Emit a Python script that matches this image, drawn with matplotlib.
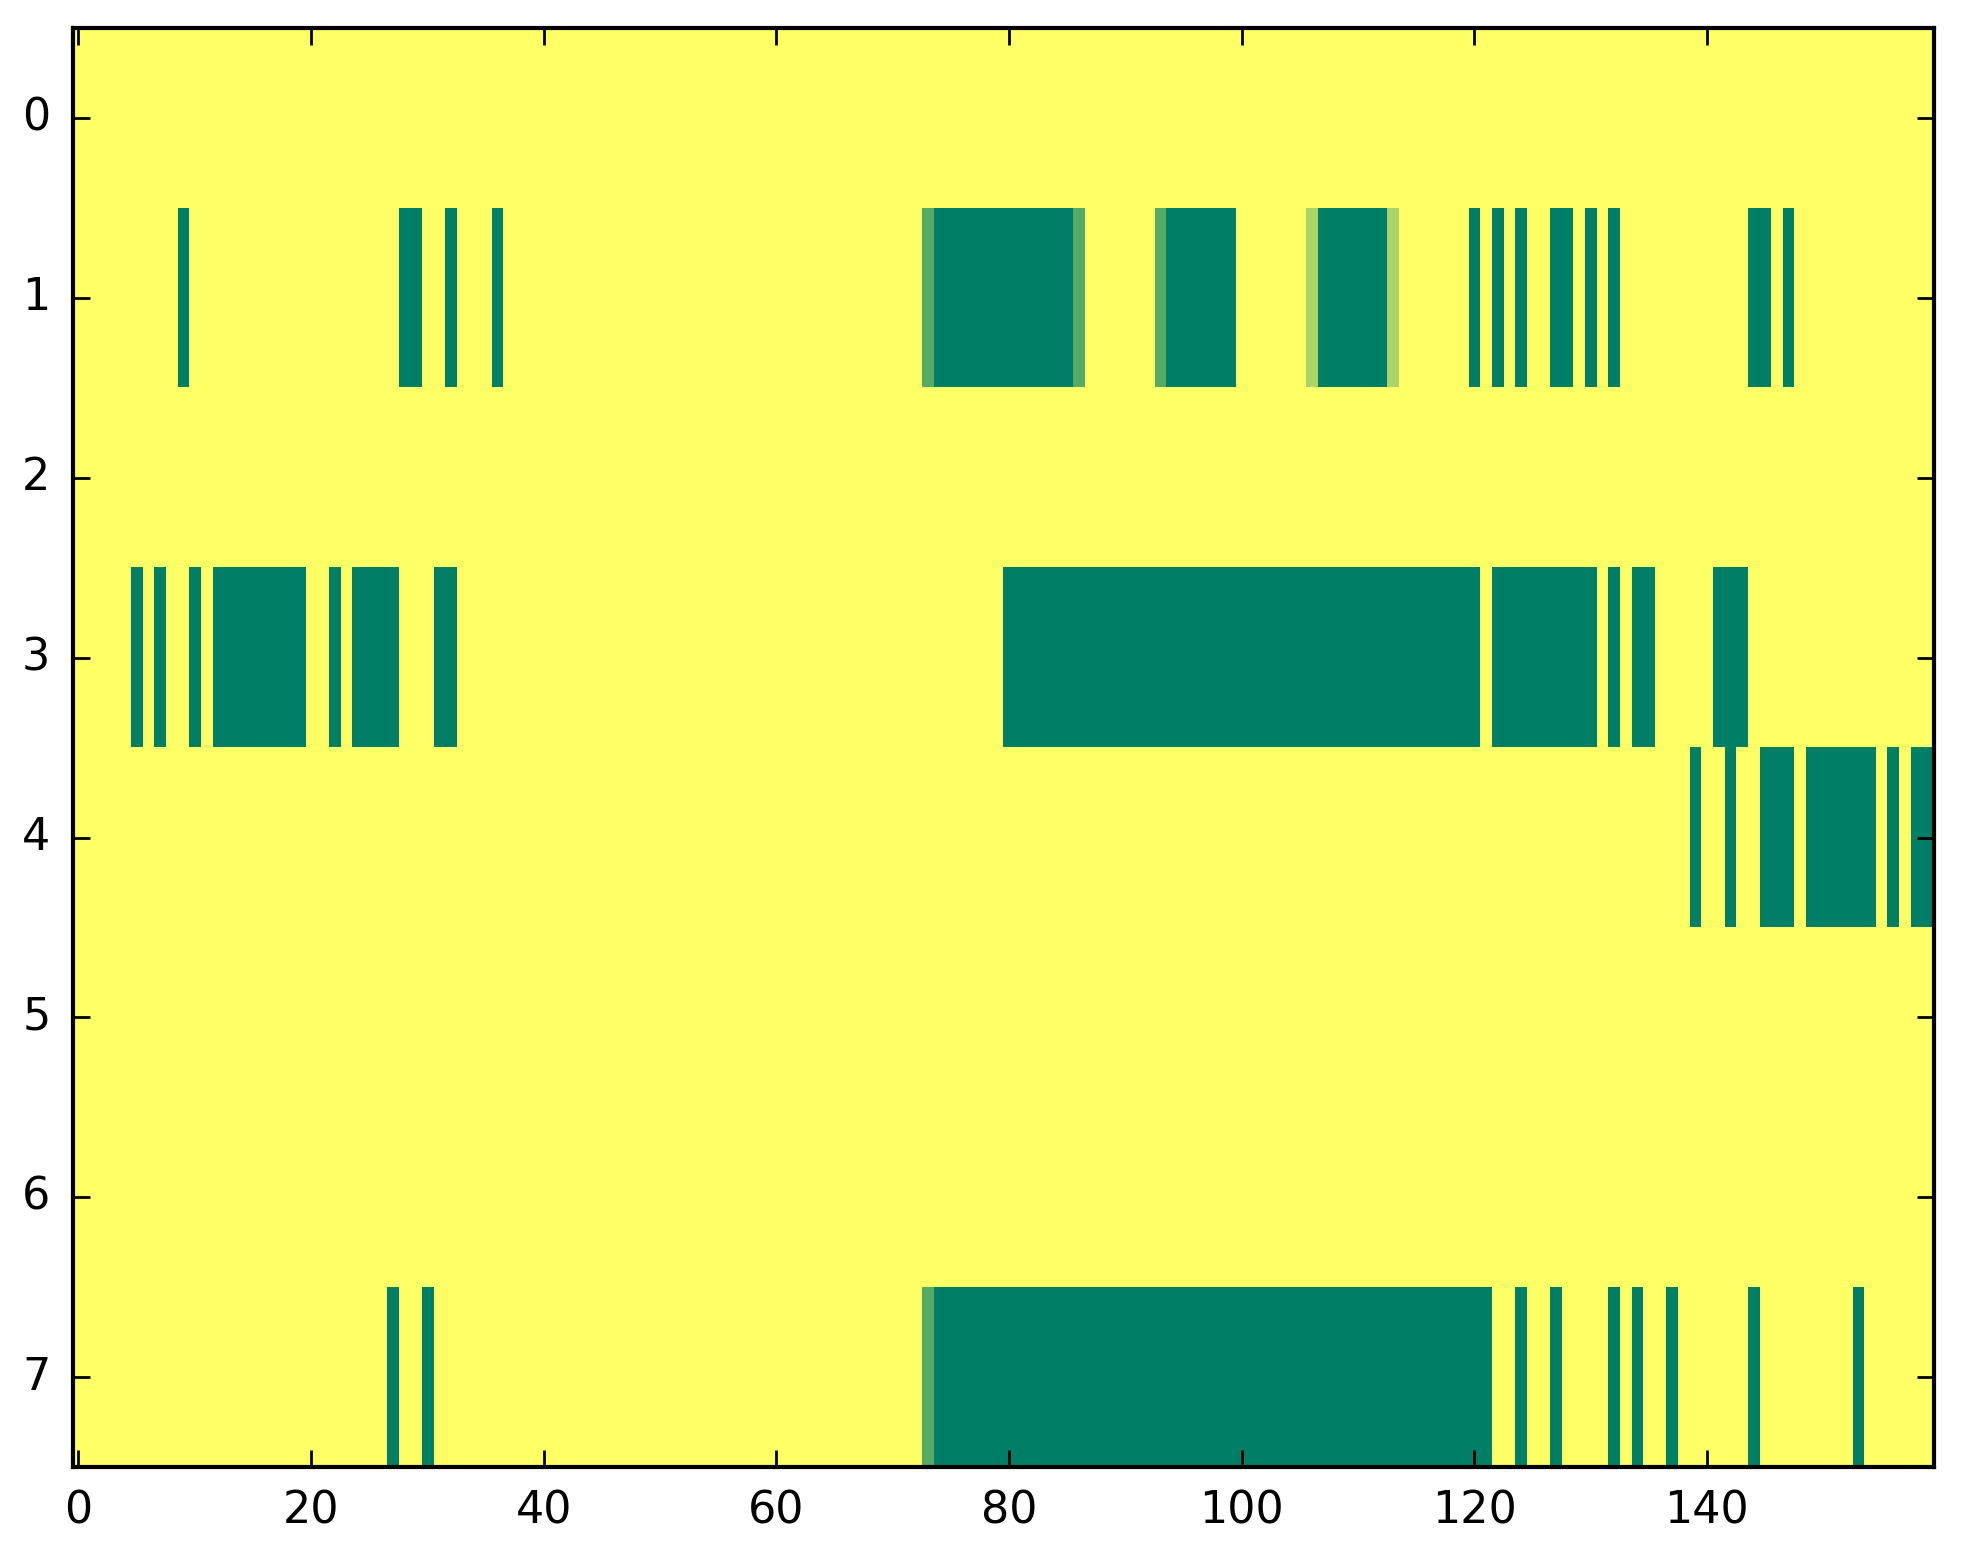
import numpy as np
import matplotlib
matplotlib.use('Agg')
import matplotlib.pyplot as plt

plt.style.use('classic')

n_rows = 8
n_cols = 160

# runs of low-valued cells per row: (first_col, last_col) inclusive, value 0
row1_low = [(9, 9), (28, 29), (32, 32), (36, 36), (74, 85), (94, 99), (107, 112),
            (120, 120), (122, 122), (124, 124), (127, 128), (130, 130), (132, 132),
            (144, 145), (147, 147)]
row3_low = [(5, 5), (7, 7), (10, 10), (12, 19), (22, 22), (24, 27), (31, 32),
            (80, 120), (122, 130), (132, 132), (134, 135), (141, 143)]
row4_low = [(139, 139), (142, 142), (145, 147), (149, 154), (156, 156), (158, 159)]
row7_low = [(27, 27), (30, 30), (74, 121), (124, 124), (127, 127), (132, 132),
            (134, 134), (137, 137), (144, 144), (153, 153)]

# cells with in-between values: (col, value)
row1_mid = [(73, 1 / 3), (86, 1 / 3), (93, 1 / 3), (106, 2 / 3), (113, 2 / 3)]
row7_mid = [(73, 1 / 3)]

low_runs = {1: row1_low, 3: row3_low, 4: row4_low, 7: row7_low}
mid_cells = {1: row1_mid, 7: row7_mid}

grid = np.ones((n_rows, n_cols))
for r, runs in low_runs.items():
    for a, b in runs:
        grid[r, a:b + 1] = 0.0
for r, cells in mid_cells.items():
    for c, v in cells:
        grid[r, c] = v

fig = plt.figure(figsize=(9.815, 7.82), dpi=200, facecolor='white')
ax = fig.add_subplot(111)
ax.imshow(grid, cmap='summer', vmin=0, vmax=1, aspect='auto', interpolation='nearest')
ax.set_xlim(-0.5, n_cols - 0.5)
ax.set_ylim(n_rows - 0.5, -0.5)
ax.set_xticks(np.arange(0, n_cols, 20))
ax.set_yticks(np.arange(0, n_rows))
ax.tick_params(axis='both', which='major', labelsize=16, length=6, width=1,
               direction='in', top=True, right=True, pad=8)
for sp in ax.spines.values():
    sp.set_linewidth(1.5)

plt.subplots_adjust(left=0.037, right=0.985, top=0.982, bottom=0.062)
plt.savefig('out.png', dpi=200, facecolor='white')
